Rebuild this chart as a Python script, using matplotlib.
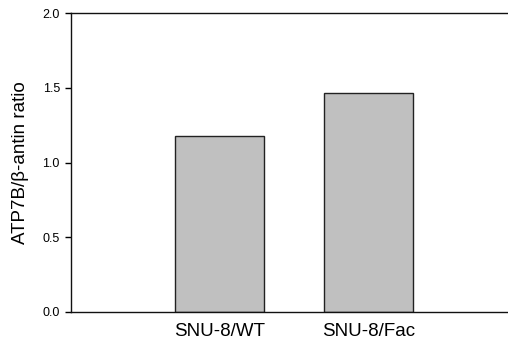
import matplotlib
matplotlib.use('Agg')
import matplotlib.pyplot as plt

plt.rcParams['font.family'] = ['Liberation Sans', 'DejaVu Sans']

# data
groups = ['SNU-8/WT', 'SNU-8/Fac']
ratios = [1.177, 1.465]
yticks = [0.0, 0.5, 1.0, 1.5, 2.0]

fig = plt.figure(figsize=(5.08, 3.47), dpi=100)
ax = fig.add_axes([71 / 508, 35 / 347, 446 / 508, 299 / 347])

positions = list(range(len(groups)))
ax.bar(positions, ratios, width=0.6, color='#c0c0c0', edgecolor='#222222', linewidth=1.0)

ax.set_xlim(-1, 2)
ax.set_ylim(0, 2.0)
ax.set_xticks(positions)
ax.set_xticklabels(groups, fontsize=13.5)
ax.set_yticks(yticks)
ax.set_yticklabels([f'{t:.1f}' for t in yticks], fontsize=9)
ax.tick_params(axis='x', length=0, pad=8)
ax.tick_params(axis='y', length=4, width=1, pad=4, direction='out')

ax.set_ylabel('ATP7B/β-antin ratio', fontsize=13.5)
ax.yaxis.set_label_coords(-0.095, 0.5)

ax.spines['right'].set_visible(False)
for s in ['left', 'bottom', 'top']:
    ax.spines[s].set_linewidth(1.0)
    ax.spines[s].set_color('#111111')

fig.savefig('out.png', dpi=100)
